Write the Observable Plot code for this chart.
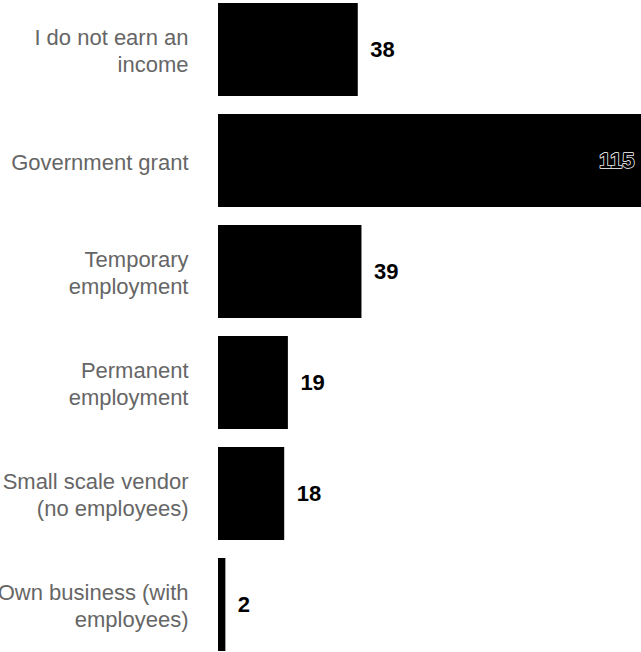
<!DOCTYPE html>
<html>
<head>
<meta charset="utf-8">
<script src="https://cdn.jsdelivr.net/npm/d3@7"></script>
<script src="https://cdn.jsdelivr.net/npm/@observablehq/plot@0.6"></script>
<style>
  html, body { margin: 0; padding: 0; background: white; overflow: hidden; }
  #chart svg { overflow: hidden; }
</style>
</head>
<body>
<div id="chart"></div>
<script>
const categories = [
  "I do not earn an income",
  "Government grant",
  "Temporary employment",
  "Permanent employment",
  "Small scale vendor (no employees)",
  "Own business (with employees)"
];
const labels = [
  "I do not earn an\nincome",
  "Government grant",
  "Temporary\nemployment",
  "Permanent\nemployment",
  "Small scale vendor\n(no employees)",
  "Own business (with\nemployees)"
];
const values = [38, 115, 39, 19, 18, 2];

const data = categories.map((c, i) => ({category: c, label: labels[i], value: values[i]}));
const xMax = 115;
const inside = data.filter(d => d.value >= 100);
const outside = data.filter(d => d.value < 100);

const chart = Plot.plot({
  width: 641,
  height: 652,
  marginLeft: 218,
  marginRight: 0,
  marginTop: 2,
  marginBottom: 0,
  style: {fontFamily: "'Liberation Sans', Arial, Helvetica, sans-serif", background: "white"},
  x: {domain: [0, xMax], axis: null},
  y: {domain: categories, axis: null, paddingInner: 0.165, paddingOuter: 0},
  marks: [
    Plot.barX(data, {y: "category", x: "value", fill: "black"}),
    Plot.text(data, {
      y: "category", text: "label", frameAnchor: "left", dx: -30,
      textAnchor: "end", lineAnchor: "middle", lineHeight: 1.23,
      fontSize: 22, fill: "#666666"
    }),
    Plot.text(outside, {
      y: "category", x: "value", text: d => String(d.value), dx: 12,
      textAnchor: "start", fontSize: 22, fontWeight: "bold", fill: "black"
    }),
    Plot.text(inside, {
      y: "category", x: d => Math.min(d.value, xMax), text: d => String(d.value), dx: -7,
      textAnchor: "end", fontSize: 22, fontWeight: "bold", fill: "black",
      stroke: "white", strokeWidth: 1.5
    })
  ]
});
document.getElementById("chart").appendChild(chart);
</script>
</body>
</html>
